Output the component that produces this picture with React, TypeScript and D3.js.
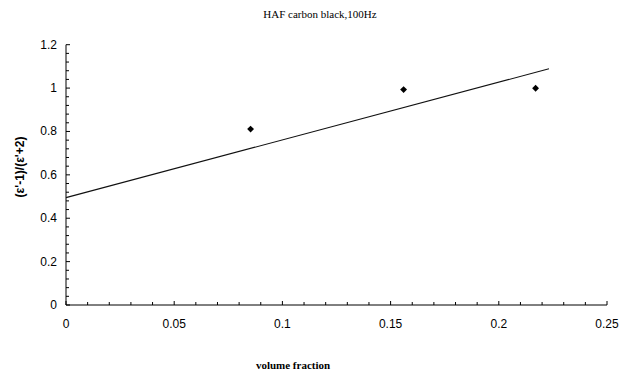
import React from "react";
import * as d3 from "d3";

const titleText = "HAF carbon black,100Hz";
const xAxisTitle = "volume fraction";
const yAxisTitle = "(ε'-1)/(ε'+2)";

const pointX = [0.0853, 0.156, 0.217];
const pointY = [0.811, 0.993, 0.999];

const fitX = [0.0, 0.2232];
const fitY = [0.495, 1.089];

const xMajorTicks = [0, 0.05, 0.1, 0.15, 0.2, 0.25];
const xTickLabels = ["0", "0.05", "0.1", "0.15", "0.2", "0.25"];
const yMajorTicks = [0, 0.2, 0.4, 0.6, 0.8, 1, 1.2];
const yTickLabels = ["0", "0.2", "0.4", "0.6", "0.8", "1", "1.2"];

const W = 627;
const H = 375;
const left = 66;
const right = 607;
const top = 44.7;
const bottom = 305;

export default function App() {
  const x = d3.scaleLinear().domain([0, 0.25]).range([left, right]);
  const y = d3.scaleLinear().domain([0, 1.2]).range([bottom, top]);

  const xMinor = d3.range(0, 26).map((i) => i / 100);
  const yMinor = d3.range(0, 31).map((i) => (i * 4) / 100);

  const line = d3
    .line<number>()
    .x((_, i) => x(fitX[i]))
    .y((d) => y(d));

  const diamond = d3.symbol().type(d3.symbolDiamond2).size(30)();

  return (
    <svg
      width={W}
      height={H}
      style={{ position: "absolute", left: 0, top: 0, background: "#fff" }}
    >
      <text
        x={320}
        y={18}
        textAnchor="middle"
        fontFamily="Liberation Serif, serif"
        fontSize={11}
      >
        {titleText}
      </text>

      {/* axes */}
      <line x1={left} x2={left} y1={top} y2={bottom} stroke="#000" strokeWidth={1} />
      <line x1={left} x2={right} y1={bottom} y2={bottom} stroke="#000" strokeWidth={1} />

      {xMinor.map((v, i) => (
        <line
          key={"xm" + i}
          x1={x(v)}
          x2={x(v)}
          y1={bottom}
          y2={bottom - (i % 5 === 0 ? 4 : 3)}
          stroke="#000"
          strokeWidth={1}
        />
      ))}
      {yMinor.map((v, i) => (
        <line
          key={"ym" + i}
          x1={left}
          x2={left + (i % 5 === 0 ? 4 : 3)}
          y1={y(v)}
          y2={y(v)}
          stroke="#000"
          strokeWidth={1}
        />
      ))}

      {xMajorTicks.map((v, i) => (
        <text
          key={"xl" + i}
          x={x(v)}
          y={328}
          textAnchor="middle"
          fontFamily="Liberation Sans, Arial, sans-serif"
          fontSize={12}
        >
          {xTickLabels[i]}
        </text>
      ))}
      {yMajorTicks.map((v, i) => (
        <text
          key={"yl" + i}
          x={57}
          y={y(v) + 4}
          textAnchor="end"
          fontFamily="Liberation Sans, Arial, sans-serif"
          fontSize={12}
        >
          {yTickLabels[i]}
        </text>
      ))}

      <path d={line(fitY) || ""} fill="none" stroke="#111" strokeWidth={1.1} />

      {pointX.map((v, i) => (
        <path
          key={"p" + i}
          d={diamond || ""}
          transform={`translate(${x(v)},${y(pointY[i])})`}
          fill="#000"
        />
      ))}

      <text
        x={293}
        y={369}
        textAnchor="middle"
        fontFamily="Liberation Serif, serif"
        fontWeight="bold"
        fontSize={11}
      >
        {xAxisTitle}
      </text>
      <text
        transform={`translate(24,167) rotate(-90)`}
        textAnchor="middle"
        fontFamily="Liberation Sans, Arial, sans-serif"
        fontWeight="bold"
        fontSize={12}
      >
        {yAxisTitle}
      </text>
    </svg>
  );
}
